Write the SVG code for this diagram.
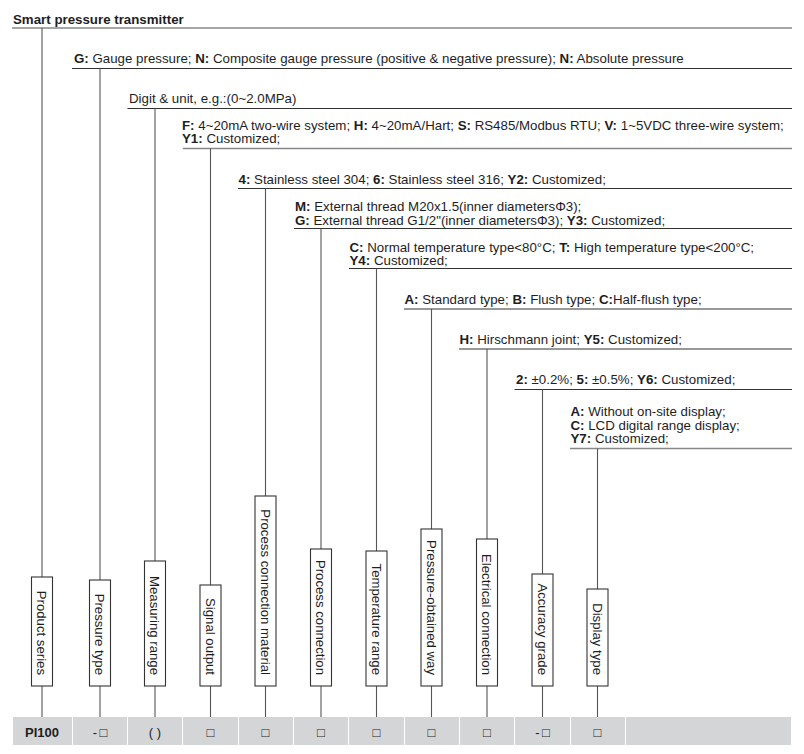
<svg xmlns="http://www.w3.org/2000/svg" width="804" height="754" viewBox="0 0 804 754">
<style>
text{font-family:"Liberation Sans",Arial,sans-serif;font-size:13.3px;fill:#1e1e1e}
.b{font-weight:bold}
.h{stroke:#333;stroke-width:1.1;fill:none}
.hg{stroke:#888;stroke-width:1.4;fill:none}
.v{stroke:#555;stroke-width:1.1;fill:none}
.box{fill:#fff;stroke:#333;stroke-width:1.1}
.cell{fill:#d4d5d6}
.lbl{text-anchor:end;font-size:13.2px}
.c{text-anchor:middle;font-size:13px}
</style>
<rect width="804" height="754" fill="#fff"/>
<g id="connectors">
<line class="hg" x1="12" y1="28" x2="792" y2="28"/>
<line class="h" x1="72" y1="68.5" x2="792" y2="68.5"/>
<line class="h" x1="127.5" y1="108.5" x2="792" y2="108.5"/>
<line class="hg" x1="183" y1="148.5" x2="792" y2="148.5"/>
<line class="h" x1="238" y1="188.5" x2="792" y2="188.5"/>
<line class="h" x1="294" y1="228.5" x2="792" y2="228.5"/>
<line class="h" x1="349" y1="268.5" x2="792" y2="268.5"/>
<line class="h" x1="404" y1="309" x2="792" y2="309"/>
<line class="h" x1="459" y1="349" x2="792" y2="349"/>
<line class="h" x1="514.5" y1="389.5" x2="792" y2="389.5"/>
<line class="hg" x1="570" y1="448.5" x2="792" y2="448.5"/>
<line class="v" x1="42" y1="28" x2="42" y2="577"/>
<line class="v" x1="100" y1="68.5" x2="100" y2="580"/>
<line class="v" x1="155" y1="108.5" x2="155" y2="561"/>
<line class="v" x1="210.5" y1="148.5" x2="210.5" y2="585"/>
<line class="v" x1="265.5" y1="188.5" x2="265.5" y2="496"/>
<line class="v" x1="321" y1="228.5" x2="321" y2="549"/>
<line class="v" x1="376.5" y1="268.5" x2="376.5" y2="551"/>
<line class="v" x1="431.5" y1="309" x2="431.5" y2="529"/>
<line class="v" x1="487" y1="349" x2="487" y2="539"/>
<line class="v" x1="542.5" y1="389.5" x2="542.5" y2="574"/>
<line class="v" x1="597.5" y1="448.5" x2="597.5" y2="589"/>
<line class="v" x1="42" y1="686" x2="42" y2="717"/>
<line class="v" x1="100" y1="686" x2="100" y2="717"/>
<line class="v" x1="155" y1="686" x2="155" y2="717"/>
<line class="v" x1="210.5" y1="686" x2="210.5" y2="717"/>
<line class="v" x1="265.5" y1="686" x2="265.5" y2="717"/>
<line class="v" x1="321" y1="686" x2="321" y2="717"/>
<line class="v" x1="376.5" y1="686" x2="376.5" y2="717"/>
<line class="v" x1="431.5" y1="686" x2="431.5" y2="717"/>
<line class="v" x1="487" y1="686" x2="487" y2="717"/>
<line class="v" x1="542.5" y1="686" x2="542.5" y2="717"/>
<line class="v" x1="597.5" y1="686" x2="597.5" y2="717"/>
</g>
<g id="title"><text class="b" x="13" y="23.5">Smart pressure transmitter</text></g>
<g id="opt-pressure-type"><text x="74" y="63"><tspan class="b">G:</tspan> Gauge pressure; <tspan class="b">N:</tspan> Composite gauge pressure (positive &amp; negative pressure); <tspan class="b">N:</tspan> Absolute pressure</text></g>
<g id="opt-range"><text x="129" y="103">Digit &amp; unit, e.g.:(0~2.0MPa)</text></g>
<g id="opt-signal"><text x="182" y="129.5"><tspan class="b">F:</tspan> 4~20mA two-wire system; <tspan class="b">H:</tspan> 4~20mA/Hart; <tspan class="b">S:</tspan> RS485/Modbus RTU; <tspan class="b">V:</tspan> 1~5VDC three-wire system;</text><text x="182" y="143"><tspan class="b">Y1:</tspan> Customized;</text></g>
<g id="opt-material"><text x="238.5" y="183.5"><tspan class="b">4:</tspan> Stainless steel 304; <tspan class="b">6:</tspan> Stainless steel 316; <tspan class="b">Y2:</tspan> Customized;</text></g>
<g id="opt-connection"><text x="295" y="211"><tspan class="b">M:</tspan> External thread M20x1.5(inner diametersΦ3);</text><text x="295" y="224.5"><tspan class="b">G:</tspan> External thread G1/2"(inner diametersΦ3); <tspan class="b">Y3:</tspan> Customized;</text></g>
<g id="opt-temperature"><text x="349.5" y="251.5"><tspan class="b">C:</tspan> Normal temperature type&lt;80°C; <tspan class="b">T:</tspan> High temperature type&lt;200°C;</text><text x="349.5" y="265"><tspan class="b">Y4:</tspan> Customized;</text></g>
<g id="opt-way"><text x="404.5" y="303.5"><tspan class="b">A:</tspan> Standard type; <tspan class="b">B:</tspan> Flush type; <tspan class="b">C:</tspan>Half-flush type;</text></g>
<g id="opt-electrical"><text x="459.5" y="343.5"><tspan class="b">H:</tspan> Hirschmann joint; <tspan class="b">Y5:</tspan> Customized;</text></g>
<g id="opt-accuracy"><text x="516" y="383.5"><tspan class="b">2:</tspan> ±0.2%; <tspan class="b">5:</tspan> ±0.5%; <tspan class="b">Y6:</tspan> Customized;</text></g>
<g id="opt-display"><text x="570.5" y="416"><tspan class="b">A:</tspan> Without on-site display;</text><text x="570.5" y="429.5"><tspan class="b">C:</tspan> LCD digital range display;</text><text x="570.5" y="443"><tspan class="b">Y7:</tspan> Customized;</text></g>
<g id="node-product-series"><rect class="box" x="31.5" y="577" width="21" height="109"/><text class="lbl" transform="translate(42,675) rotate(90)" dy="0.35em">Product series</text></g>
<g id="node-pressure-type"><rect class="box" x="89.5" y="580" width="21" height="106"/><text class="lbl" transform="translate(100,675) rotate(90)" dy="0.35em">Pressure type</text></g>
<g id="node-measuring-range"><rect class="box" x="144.5" y="561" width="21" height="125"/><text class="lbl" transform="translate(155,675) rotate(90)" dy="0.35em">Measuring range</text></g>
<g id="node-signal-output"><rect class="box" x="200" y="585" width="21" height="101"/><text class="lbl" transform="translate(210.5,675) rotate(90)" dy="0.35em">Signal output</text></g>
<g id="node-material"><rect class="box" x="255" y="496" width="21" height="190"/><text class="lbl" transform="translate(265.5,675) rotate(90)" dy="0.35em">Process connection material</text></g>
<g id="node-process-connection"><rect class="box" x="310.5" y="549" width="21" height="137"/><text class="lbl" transform="translate(321,675) rotate(90)" dy="0.35em">Process connection</text></g>
<g id="node-temperature-range"><rect class="box" x="366" y="551" width="21" height="135"/><text class="lbl" transform="translate(376.5,675) rotate(90)" dy="0.35em">Temperature range</text></g>
<g id="node-pressure-way"><rect class="box" x="421" y="529" width="21" height="157"/><text class="lbl" transform="translate(431.5,675) rotate(90)" dy="0.35em">Pressure-obtained way</text></g>
<g id="node-electrical"><rect class="box" x="476.5" y="539" width="21" height="147"/><text class="lbl" transform="translate(487,675) rotate(90)" dy="0.35em">Electrical connection</text></g>
<g id="node-accuracy"><rect class="box" x="532" y="574" width="21" height="112"/><text class="lbl" transform="translate(542.5,675) rotate(90)" dy="0.35em">Accuracy grade</text></g>
<g id="node-display"><rect class="box" x="587" y="589" width="21" height="97"/><text class="lbl" transform="translate(597.5,675) rotate(90)" dy="0.35em">Display type</text></g>
<g id="code-row">
<rect class="cell" x="13" y="717" width="59" height="28"/>
<rect class="cell" x="73" y="717" width="54" height="28"/>
<rect class="cell" x="128" y="717" width="54" height="28"/>
<rect class="cell" x="183" y="717" width="55" height="28"/>
<rect class="cell" x="239" y="717" width="54" height="28"/>
<rect class="cell" x="294" y="717" width="54" height="28"/>
<rect class="cell" x="349" y="717" width="55" height="28"/>
<rect class="cell" x="405" y="717" width="54" height="28"/>
<rect class="cell" x="460" y="717" width="54" height="28"/>
<rect class="cell" x="515" y="717" width="55" height="28"/>
<rect class="cell" x="571" y="717" width="54" height="28"/>
<rect class="cell" x="626" y="717" width="165" height="28"/>
<text class="b c" x="42" y="736.5">PI100</text>
<text class="c" x="100" y="736.5">-<tspan dx="2.5">□</tspan></text>
<text class="c" x="155" y="736.5">( )</text>
<text class="c" x="210.5" y="736.5">□</text>
<text class="c" x="265.5" y="736.5">□</text>
<text class="c" x="321" y="736.5">□</text>
<text class="c" x="376.5" y="736.5">□</text>
<text class="c" x="431.5" y="736.5">□</text>
<text class="c" x="487" y="736.5">□</text>
<text class="c" x="542.5" y="736.5">-<tspan dx="2.5">□</tspan></text>
<text class="c" x="597.5" y="736.5">□</text>
</g>
</svg>
